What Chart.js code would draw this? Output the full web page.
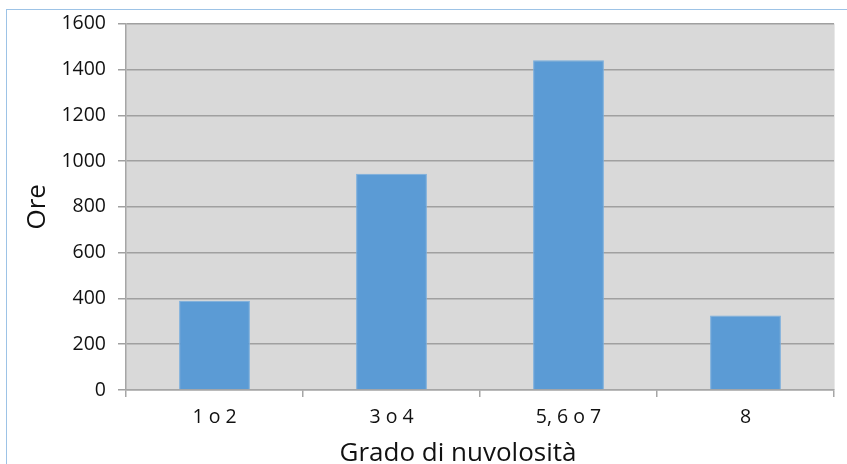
<!DOCTYPE html>
<html>
<head>
<meta charset="utf-8">
<script src="https://cdn.jsdelivr.net/npm/chart.js@4/dist/chart.umd.min.js"></script>
<style>
  html, body { margin: 0; padding: 0; background: #ffffff; }
  #wrap { position: relative; width: 847px; height: 464px; overflow: hidden; }
  #frame { position: absolute; left: 6px; top: 9px; width: 900px; height: 500px;
           border-left: 1.5px solid #9dc3e6; border-top: 1.5px solid #9dc3e6; }
  canvas { position: absolute; left: 0; top: 0; }
</style>
</head>
<body>
<div id="wrap">
  <div id="frame"></div>
  <canvas id="c" width="847" height="464"></canvas>
</div>
<script>
// Ore per grado di nuvolosità
const categories = ['1 o 2', '3 o 4', '5, 6 o 7', '8'];
const ore = [390, 945, 1440, 325];
const yTicks = [0, 200, 400, 600, 800, 1000, 1200, 1400, 1600];
const xTitle = 'Grado di nuvolosità';
const yTitle = 'Ore';

const font = "'Open Sans', 'Noto Sans', sans-serif";
const textColor = '#111111';

// grey plot area behind the bars
const plotBackground = {
  id: 'plotBackground',
  beforeDraw(chart) {
    const { ctx, chartArea: a } = chart;
    ctx.save();
    ctx.fillStyle = '#d9d9d9';
    ctx.fillRect(a.left, a.top, a.right - a.left, a.bottom - a.top);
    ctx.strokeStyle = '#e8e8e8';
    ctx.lineWidth = 1;
    ctx.beginPath();
    ctx.moveTo(a.right + 0.5, a.top);
    ctx.lineTo(a.right + 0.5, a.bottom);
    ctx.stroke();
    ctx.restore();
  }
};

// category axis title, sitting slightly left of the plot centre
const xAxisTitle = {
  id: 'xAxisTitle',
  afterDraw(chart) {
    const { ctx, chartArea: a } = chart;
    ctx.save();
    ctx.font = `26px ${font}`;
    ctx.fillStyle = textColor;
    ctx.textAlign = 'center';
    ctx.textBaseline = 'alphabetic';
    ctx.fillText(xTitle, (a.left + a.right) / 2 - 22, 461);
    ctx.restore();
  }
};

new Chart(document.getElementById('c'), {
  type: 'bar',
  data: {
    labels: categories,
    datasets: [{
      data: ore,
      backgroundColor: '#5b9bd5',
      borderColor: '#78aede',
      borderWidth: 1,
      categoryPercentage: 0.4,
      barPercentage: 1.0
    }]
  },
  options: {
    responsive: false,
    animation: false,
    layout: { padding: { left: 0, right: 13, top: 17, bottom: 0 } },
    plugins: { legend: { display: false }, tooltip: { enabled: false } },
    scales: {
      x: {
        grid: {
          offset: true,
          drawOnChartArea: false,
          drawTicks: true,
          tickLength: 7,
          color: '#a6a6a6',
          lineWidth: 1.5
        },
        border: { color: '#a6a6a6', width: 1.5 },
        ticks: { color: textColor, font: { family: font, size: 19.5 }, padding: 9 },
        afterFit(scale) { scale.height = 74; }
      },
      y: {
        min: 0,
        max: 1600,
        afterBuildTicks(scale) { scale.ticks = yTicks.map(v => ({ value: v })); },
        grid: {
          color: '#a0a0a0',
          lineWidth: 1.5,
          drawTicks: true,
          tickLength: 8
        },
        border: { color: '#a6a6a6', width: 1.5 },
        ticks: {
          color: textColor,
          font: { family: font, size: 19.5 },
          padding: 12,
          callback: v => String(v)
        },
        title: {
          display: true,
          text: yTitle,
          color: textColor,
          font: { family: font, size: 26 },
          padding: { top: 22, bottom: 0 }
        },
        afterFit(scale) { scale.width = 126; }
      }
    }
  },
  plugins: [plotBackground, xAxisTitle]
});
</script>
</body>
</html>
